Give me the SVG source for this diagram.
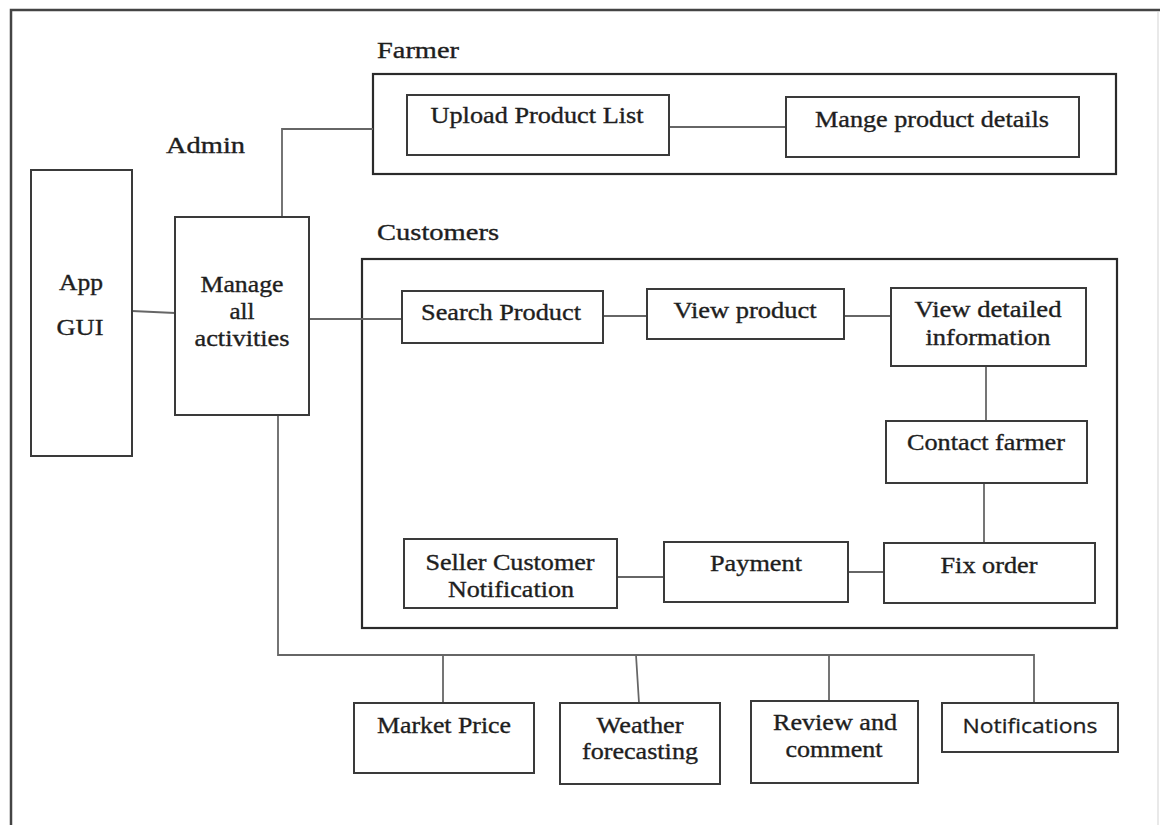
<svg xmlns="http://www.w3.org/2000/svg" width="1161" height="825" viewBox="0 0 1161 825">
<style>
  .frame { fill: none; stroke: #444; stroke-width: 2.5; }
  .group { fill: none; stroke: #2a2a2a; stroke-width: 2.2; }
  .box { fill: #fff; stroke: #3a3a3a; stroke-width: 2; }
  .conn { fill: none; stroke: #666; stroke-width: 1.8; }
  .t { font-family: "Liberation Serif", "Times New Roman", serif; font-size: 23px; fill: #1e1e1e; stroke: #1e1e1e; stroke-width: 0.35; }
  .c { text-anchor: middle; }
  .s { font-family: "Open Sans", "Noto Sans", "Liberation Sans", sans-serif; font-size: 20px; fill: #1e1e1e; stroke: #1e1e1e; stroke-width: 0.3; }
</style>
<rect x="0" y="0" width="1161" height="825" fill="#fff"/>
<g id="frame">
  <path class="frame" d="M11,825 V10 H1160"/>
  <line x1="1158" y1="12" x2="1158" y2="825" stroke="#e2e2e2" stroke-width="1.5"/>
</g>
<g id="labels">
  <text class="t" x="377" y="58" textLength="82" lengthAdjust="spacingAndGlyphs">Farmer</text>
  <text class="t" x="166" y="153" textLength="79" lengthAdjust="spacingAndGlyphs">Admin</text>
  <text class="t" x="377" y="240" textLength="122" lengthAdjust="spacingAndGlyphs">Customers</text>
</g>
<g id="farmer-group"><rect class="group" x="373" y="74" width="743" height="100"/></g>
<g id="customers-group"><rect class="group" x="362" y="259" width="755" height="369"/></g>
<g id="connectors">
  <polyline class="conn" points="282,217 282,129 373,129"/>
  <line class="conn" x1="669" y1="127" x2="786" y2="127"/>
  <line class="conn" x1="132" y1="311" x2="175" y2="313"/>
  <line class="conn" x1="309" y1="319" x2="402" y2="319"/>
  <line class="conn" x1="603" y1="316" x2="647" y2="316"/>
  <line class="conn" x1="844" y1="316" x2="891" y2="316"/>
  <line class="conn" x1="986" y1="366" x2="986" y2="421"/>
  <line class="conn" x1="984" y1="483" x2="984" y2="543"/>
  <line class="conn" x1="848" y1="572" x2="884" y2="572"/>
  <line class="conn" x1="617" y1="577" x2="664" y2="577"/>
  <polyline class="conn" points="278,415 278,655 1034,655 1034,703"/>
  <line class="conn" x1="443" y1="655" x2="443" y2="703"/>
  <line class="conn" x1="636" y1="655" x2="639" y2="703"/>
  <line class="conn" x1="829" y1="655" x2="829" y2="701"/>
</g>
<g id="upload-product-list">
  <rect class="box" x="407" y="95" width="262" height="60"/>
  <text class="t c" x="537" y="123" textLength="213" lengthAdjust="spacingAndGlyphs">Upload Product List</text>
</g>
<g id="mange-product-details">
  <rect class="box" x="786" y="97" width="293" height="60"/>
  <text class="t c" x="932" y="127" textLength="234" lengthAdjust="spacingAndGlyphs">Mange product details</text>
</g>
<g id="app-gui">
  <rect class="box" x="31" y="170" width="101" height="286" stroke="#666"/>
  <text class="t c" x="81" y="290" textLength="44" lengthAdjust="spacingAndGlyphs">App</text>
  <text class="t c" x="80" y="335" textLength="47" lengthAdjust="spacingAndGlyphs">GUI</text>
</g>
<g id="manage-all-activities">
  <rect class="box" x="175" y="217" width="134" height="198"/>
  <text class="t c" x="242" y="292" textLength="83" lengthAdjust="spacingAndGlyphs">Manage</text>
  <text class="t c" x="242" y="319" textLength="25" lengthAdjust="spacingAndGlyphs">all</text>
  <text class="t c" x="242" y="346" textLength="95" lengthAdjust="spacingAndGlyphs">activities</text>
</g>
<g id="search-product">
  <rect class="box" x="402" y="291" width="201" height="52"/>
  <text class="t c" x="501" y="320" textLength="160" lengthAdjust="spacingAndGlyphs">Search Product</text>
</g>
<g id="view-product">
  <rect class="box" x="647" y="289" width="197" height="50"/>
  <text class="t c" x="745" y="318" textLength="143" lengthAdjust="spacingAndGlyphs">View product</text>
</g>
<g id="view-detailed-information">
  <rect class="box" x="891" y="288" width="195" height="78"/>
  <text class="t c" x="988" y="317" textLength="147" lengthAdjust="spacingAndGlyphs">View detailed</text>
  <text class="t c" x="988" y="345" textLength="125" lengthAdjust="spacingAndGlyphs">information</text>
</g>
<g id="contact-farmer">
  <rect class="box" x="886" y="421" width="201" height="62"/>
  <text class="t c" x="986" y="450" textLength="158" lengthAdjust="spacingAndGlyphs">Contact farmer</text>
</g>
<g id="fix-order">
  <rect class="box" x="884" y="543" width="211" height="60"/>
  <text class="t c" x="989" y="573" textLength="97" lengthAdjust="spacingAndGlyphs">Fix order</text>
</g>
<g id="payment">
  <rect class="box" x="664" y="542" width="184" height="60"/>
  <text class="t c" x="756" y="571" textLength="92" lengthAdjust="spacingAndGlyphs">Payment</text>
</g>
<g id="seller-customer-notification">
  <rect class="box" x="404" y="539" width="213" height="69"/>
  <text class="t c" x="510" y="570" textLength="169" lengthAdjust="spacingAndGlyphs">Seller Customer</text>
  <text class="t c" x="511" y="597" textLength="126" lengthAdjust="spacingAndGlyphs">Notification</text>
</g>
<g id="market-price">
  <rect class="box" x="354" y="703" width="180" height="70"/>
  <text class="t c" x="444" y="733" textLength="134" lengthAdjust="spacingAndGlyphs">Market Price</text>
</g>
<g id="weather-forecasting">
  <rect class="box" x="560" y="703" width="160" height="81"/>
  <text class="t c" x="640" y="733" textLength="87" lengthAdjust="spacingAndGlyphs">Weather</text>
  <text class="t c" x="640" y="759" textLength="116" lengthAdjust="spacingAndGlyphs">forecasting</text>
</g>
<g id="review-and-comment">
  <rect class="box" x="751" y="701" width="167" height="82"/>
  <text class="t c" x="835" y="730" textLength="124" lengthAdjust="spacingAndGlyphs">Review and</text>
  <text class="t c" x="834" y="757" textLength="97" lengthAdjust="spacingAndGlyphs">comment</text>
</g>
<g id="notifications">
  <rect class="box" x="942" y="703" width="176" height="49"/>
  <text class="s c" x="1030" y="733" textLength="135" lengthAdjust="spacingAndGlyphs">Notifications</text>
</g>
</svg>
